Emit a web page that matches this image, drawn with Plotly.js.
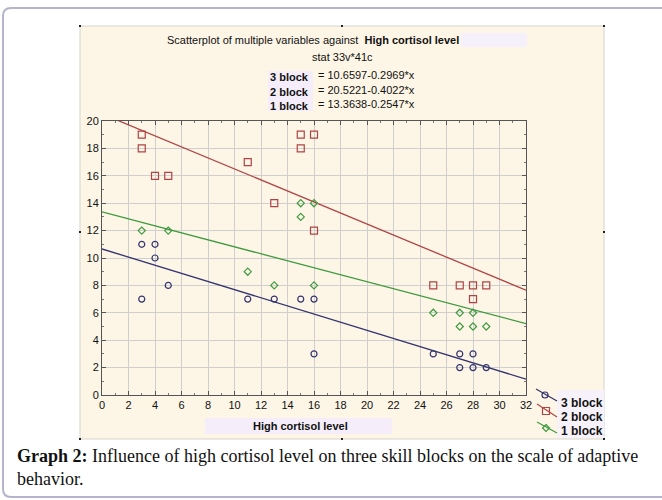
<!DOCTYPE html>
<html>
<head>
<meta charset="utf-8">
<script src="https://cdn.plot.ly/plotly-3.0.1.min.js"></script>
<style>html,body{margin:0;padding:0;background:#fff;}#chart{width:662px;height:500px;}</style>
</head>
<body>
<div id="chart"></div>
<script>
// ---- data ----
const block3X = [3, 3, 4, 4, 5, 11, 13, 15, 16, 16, 25, 27, 27, 28, 28, 29];
const block3Y = [11, 7, 11, 10, 8, 7, 7, 7, 7, 3, 3, 3, 2, 3, 2, 2];
const block2X = [3, 3, 4, 5, 11, 13, 15, 15, 16, 16, 25, 27, 28, 28, 29];
const block2Y = [19, 18, 16, 16, 17, 14, 19, 18, 19, 12, 8, 8, 8, 7, 8];
const block1X = [3, 5, 11, 13, 15, 15, 16, 16, 25, 27, 27, 28, 28, 29];
const block1Y = [12, 12, 9, 8, 14, 13, 14, 8, 6, 6, 5, 6, 5, 5];
const seriesNames = ["3 block", "2 block", "1 block"];
const intercepts = [10.6597, 20.5221, 13.3638];
const slopes = [-0.2969, -0.4022, -0.2547];
const fitRange = [0, 32];
const xTicks = [0,2,4,6,8,10,12,14,16,18,20,22,24,26,28,30,32];
const yTicks = [0,2,4,6,8,10,12,14,16,18,20];

// ---- styling ----
const colors = ["#34346e", "#b04444", "#3f9a3f"];
const symbols = ["circle-open", "square-open", "diamond-open"];
const msizes = [6, 7, 5.5];
const W = 662, H = 500;
const L = 102, R = 526, T = 121, B = 395;
const px = x => (x - L) / (R - L);
const py = y => (B - y) / (B - T);

const xs = [block3X, block2X, block1X];
const ys = [block3Y, block2Y, block1Y];
const traces = [];
for (let i = 0; i < 3; i++) {
  traces.push({
    x: fitRange, y: fitRange.map(v => intercepts[i] + slopes[i] * v),
    mode: "lines", line: {color: colors[i], width: 1.3},
    showlegend: false, hoverinfo: "skip"
  });
}
for (let i = 0; i < 3; i++) {
  traces.push({
    x: xs[i], y: ys[i], mode: "markers", name: seriesNames[i],
    marker: {symbol: symbols[i], size: msizes[i], color: colors[i], line: {width: 1.2, color: colors[i]}},
    showlegend: false
  });
}

const font = "Liberation Sans, Arial, sans-serif";
const serif = "Liberation Serif, Times New Roman, serif";
const ann = [];
function A(text, x, y, opts) {
  ann.push(Object.assign({text: text, x: px(x), y: py(y), xref: "paper", yref: "paper",
    showarrow: false, xanchor: "center", yanchor: "middle",
    font: {family: font, size: 11, color: "#111"}}, opts || {}));
}
A("Scatterplot of multiple variables against  <b>High cortisol level</b>", 313, 40);
A("stat 33v*41c", 342, 57);
const labY = [77, 92, 106];
const eqs = ["= 10.6597-0.2969*x", "= 20.5221-0.4022*x", "= 13.3638-0.2547*x"];
for (let i = 0; i < 3; i++) {
  A("<b>" + seriesNames[i] + "</b>", 311, labY[i], {xanchor: "right"});
  A(eqs[i], 316, labY[i] - 2, {xanchor: "left"});
}
A("<b>High cortisol level</b>", 300, 426);
const legY = [403, 417, 431];
for (let i = 0; i < 3; i++) A("<b>" + seriesNames[i] + "</b>", 559, legY[i], {xanchor: "left", font: {family: font, size: 12, color: "#111"}});
A("<b>Graph 2:</b> Influence of high cortisol level on three skill blocks on the scale of adaptive", 15, 456,
  {xanchor: "left", font: {family: serif, size: 18, color: "#111"}});
A("behavior.", 15, 479, {xanchor: "left", font: {family: serif, size: 18, color: "#111"}});

const shapes = [];
function rectPx(x0, y0, x1, y1, fill, extra) {
  shapes.push(Object.assign({type: "rect", xref: "paper", yref: "paper",
    x0: px(x0), x1: px(x1), y0: py(y0), y1: py(y1),
    fillcolor: fill, line: {width: 0}, layer: "below"}, extra || {}));
}
rectPx(80, 26, 604, 439, "#fdf6e6", {line: {width: 1, color: "#d8d4cc"}});
rectPx(461, 33, 527, 47, "#f6f0fb");
rectPx(268, 71, 313, 111, "#f5eefa");
rectPx(205, 418, 392, 434, "#f5eefa");
rectPx(557, 390, 604, 438, "#f7f1fa");
function P(x, y) { return px(x).toFixed(5) + "," + py(y).toFixed(5); }
shapes.push({type: "path", xref: "paper", yref: "paper", layer: "below",
  path: "M" + P(662, 8) + " L" + P(11, 8) + " Q" + P(3, 8) + " " + P(3, 16) +
        " L" + P(3, 489) + " Q" + P(3, 497) + " " + P(11, 497) + " L" + P(662, 497),
  line: {color: "#b4b4cc", width: 2}});
[[342, 26], [80, 232], [604, 232], [342, 439], [80, 439], [604, 439], [80, 26], [604, 26]].forEach(p => {
  rectPx(p[0] - 1, p[1] - 1, p[0] + 1, p[1] + 1, "#222", {layer: "above"});
});
const legLines = [[536, 389, 557, 401, 545, 395], [537, 404, 557, 417, 546, 411], [537, 422, 557, 433, 546, 428]];
legLines.forEach((g, i) => {
  shapes.push({type: "line", xref: "paper", yref: "paper", x0: px(g[0]), y0: py(g[1]), x1: px(g[2]), y1: py(g[3]),
    line: {color: colors[i], width: 1.2}});
  const cx = g[4], cy = g[5];
  if (i === 0) {
    shapes.push({type: "circle", xref: "paper", yref: "paper", x0: px(cx - 3), x1: px(cx + 3), y0: py(cy - 3), y1: py(cy + 3),
      line: {color: colors[i], width: 1.2}, fillcolor: "rgba(0,0,0,0)"});
  } else if (i === 1) {
    shapes.push({type: "rect", xref: "paper", yref: "paper", x0: px(cx - 3.5), x1: px(cx + 3.5), y0: py(cy - 3.5), y1: py(cy + 3.5),
      line: {color: colors[i], width: 1.2}, fillcolor: "rgba(0,0,0,0)"});
  } else {
    shapes.push({type: "path", xref: "paper", yref: "paper",
      path: "M" + P(cx, cy - 3.5) + " L" + P(cx + 3.5, cy) + " L" + P(cx, cy + 3.5) + " L" + P(cx - 3.5, cy) + " Z",
      line: {color: colors[i], width: 1.2}, fillcolor: "rgba(0,0,0,0)"});
  }
});

const axisCommon = {
  showgrid: true, gridcolor: "#cfcfcf", gridwidth: 1,
  showline: true, linecolor: "#555", linewidth: 1, mirror: "ticks",
  ticks: "inside", ticklen: 4, tickcolor: "#555",
  zeroline: false, tickfont: {family: font, size: 11, color: "#111"},
  minor: {ticks: "inside", ticklen: 2, tickcolor: "#777", dtick: 1, showgrid: false}
};
const layout = {
  width: W, height: H,
  margin: {l: L, r: W - R, t: T, b: H - B, pad: 0},
  paper_bgcolor: "#ffffff", plot_bgcolor: "#ffffff",
  showlegend: false,
  xaxis: Object.assign({}, axisCommon, {range: [0, 32], tickvals: xTicks, ticktext: xTicks.map(String)}),
  yaxis: Object.assign({}, axisCommon, {range: [0, 20], tickvals: yTicks, ticktext: yTicks.map(String)}),
  annotations: ann,
  shapes: shapes
};
Plotly.newPlot("chart", traces, layout, {displayModeBar: false, staticPlot: true});
</script>
</body>
</html>
